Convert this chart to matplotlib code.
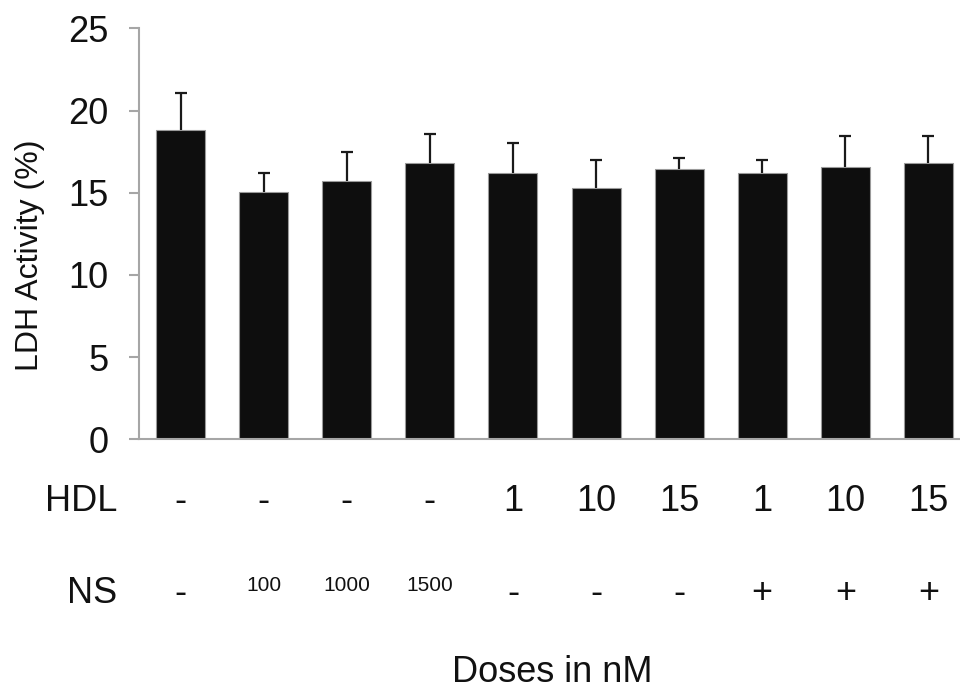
import matplotlib
matplotlib.use('Agg')
import matplotlib.pyplot as plt
from matplotlib.transforms import blended_transform_factory

# LDH activity per treatment group
groups = ['g1', 'g2', 'g3', 'g4', 'g5', 'g6', 'g7', 'g8', 'g9', 'g10']
ldh_mean = [18.81, 15.04, 15.71, 16.83, 16.20, 15.31, 16.44, 16.20, 16.56, 16.83]
ldh_err = [2.29, 1.18, 1.75, 1.76, 1.86, 1.66, 0.65, 0.77, 1.91, 1.64]
hdl_labels = ['-', '-', '-', '-', '1', '10', '15', '1', '10', '15']
ns_labels = ['-', '100', '1000', '1500', '-', '-', '-', '+', '+', '+']
y_ticks = [0, 5, 10, 15, 20, 25]

plt.rcParams['font.family'] = ['Liberation Sans', 'DejaVu Sans']

fig = plt.figure(figsize=(9.6, 6.94), dpi=100)
ax = fig.add_axes([0.1448, 0.367, 0.8656, 0.592])

x = list(range(len(groups)))
ax.bar(x, ldh_mean, width=0.59, color='#0e0e0e', edgecolor='#9a9a9a', linewidth=0.8, zorder=2)
eb = ax.errorbar(x, ldh_mean, yerr=[[0] * len(x), ldh_err], fmt='none', ecolor='#1a1a1a',
                 elinewidth=1.6, capsize=4.3, capthick=1.6, zorder=3)
# only the upper cap is shown
eb[1][0].set_visible(False)

ax.set_xlim(-0.5, len(groups) - 0.5)
ax.set_ylim(0, 25)
ax.set_yticks(y_ticks)
ax.set_xticks([])

for side in ['top', 'right']:
    ax.spines[side].set_visible(False)
for side in ['left', 'bottom']:
    ax.spines[side].set_color('#a6a6a6')
    ax.spines[side].set_linewidth(1.5)
ax.tick_params(axis='y', direction='out', length=7.2, width=1.5, color='#a6a6a6',
               labelsize=26, pad=15, labelcolor='#111111')

# dose table under the bars
trans = blended_transform_factory(ax.transData, fig.transFigure)
for i in x:
    ax.text(i, 0.2767, hdl_labels[i], transform=trans, ha='center', va='center',
            fontsize=26, color='#111111')
    small = ns_labels[i] not in ['-', '+']
    ax.text(i, 0.156 if small else 0.1455, ns_labels[i], transform=trans, ha='center', va='center',
            fontsize=15 if small else 26, color='#111111')

fig.text(0.1219, 0.2767, 'HDL', ha='right', va='center', fontsize=26, color='#111111')
fig.text(0.1219, 0.1455, 'NS', ha='right', va='center', fontsize=26, color='#111111')
fig.text(0.575, 0.018, 'Doses in nM', ha='center', va='baseline', fontsize=26, color='#111111')
fig.text(0.031, 0.6326, 'LDH Activity (%)', ha='center', va='center', rotation=90,
         fontsize=23, color='#111111')

fig.savefig('out.png', dpi=100)
